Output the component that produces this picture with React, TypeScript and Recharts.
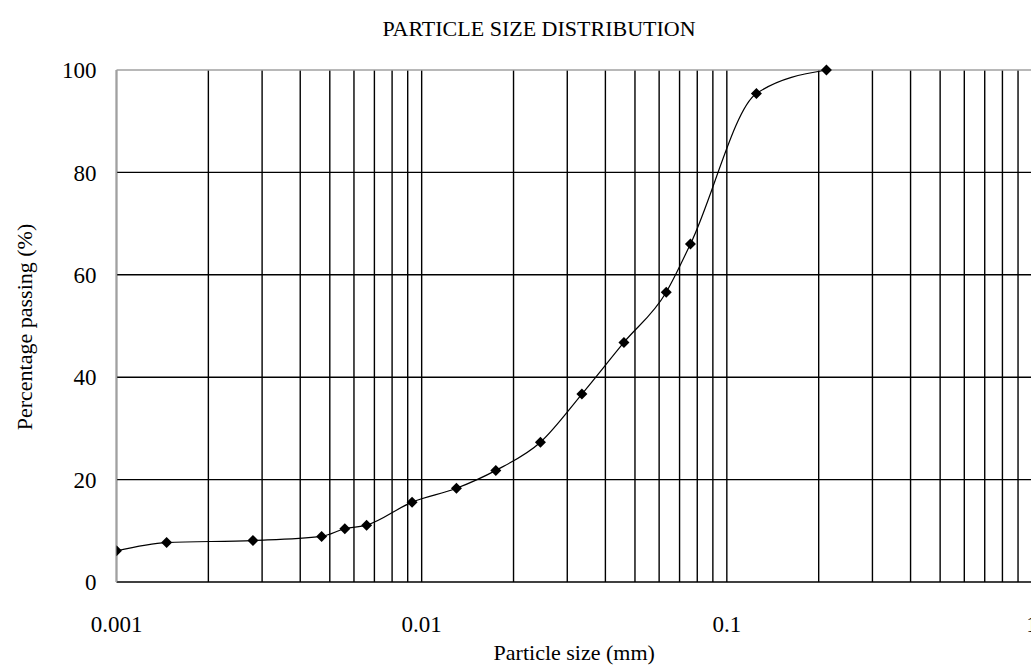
import { LineChart, Line, XAxis, YAxis, CartesianGrid, ReferenceLine } from 'recharts'

// sieve / hydrometer results
const sizes = [0.001, 0.00146, 0.0028, 0.0047, 0.0056, 0.0066, 0.0093, 0.013, 0.0175, 0.0245, 0.0335, 0.046, 0.0633, 0.076, 0.125, 0.212]
const passing = [6.1, 7.7, 8.1, 8.9, 10.4, 11.1, 15.6, 18.3, 21.8, 27.3, 36.7, 46.8, 56.6, 66.0, 95.4, 100]

const xGridTicks = [
  0.001, 0.002, 0.003, 0.004, 0.005, 0.006, 0.007, 0.008, 0.009,
  0.01, 0.02, 0.03, 0.04, 0.05, 0.06, 0.07, 0.08, 0.09,
  0.1, 0.2, 0.3, 0.4, 0.5, 0.6, 0.7, 0.8, 0.9, 1,
]
const xLabelTicks = [0.001, 0.01, 0.1, 1]
const yTicks = [0, 20, 40, 60, 80, 100]
const yGridLines = [20, 40, 60, 80]

const data = sizes.map((s, i) => ({ size: s, pct: passing[i] }))

const FONT = '"Liberation Serif", "DejaVu Serif", serif'
const BORDER = '#a0a0a0'

function Diamond(props: any) {
  const { cx, cy } = props
  if (cx == null || cy == null) return null
  const r = 5.5
  return <path d={`M${cx},${cy - r}L${cx + r},${cy}L${cx},${cy + r}L${cx - r},${cy}Z`} fill="#000" />
}

export default function App() {
  return (
    <div style={{ position: 'absolute', left: 0, top: 0, width: 1031, height: 666, overflow: 'hidden', background: '#fff', fontFamily: FONT }}>
      <div style={{ position: 'absolute', left: 339, top: 16, width: 400, textAlign: 'center', fontSize: 22, lineHeight: '26px', color: '#000' }}>
        PARTICLE SIZE DISTRIBUTION
      </div>
      <div
        style={{
          position: 'absolute', left: 25 - 150, top: 327 - 13, width: 300, height: 26, lineHeight: '26px',
          textAlign: 'center', fontSize: 22, color: '#000', transform: 'rotate(-90deg)',
        }}
      >
        Percentage passing (%)
      </div>
      <LineChart width={1040} height={666} data={data} margin={{ top: 70, right: 8, bottom: 0, left: 0 }}>
        <CartesianGrid stroke="#000" strokeWidth={1.4} horizontalValues={yGridLines} verticalValues={xGridTicks} />
        <ReferenceLine y={100} stroke={BORDER} strokeWidth={1.5} />
        <XAxis
          dataKey="size"
          type="number"
          scale="log"
          domain={[0.001, 1]}
          ticks={xGridTicks}
          interval={0}
          allowDataOverflow
          height={84}
          tickLine={false}
          tickSize={0}
          tickMargin={34}
          axisLine={{ stroke: '#000', strokeWidth: 1.5 }}
          tickFormatter={v => (xLabelTicks.includes(v) ? String(v) : '')}
          tick={{ fontFamily: FONT, fontSize: 23, fill: '#000' }}
          label={{ value: 'Particle size (mm)', position: 'insideBottom', offset: 6, fontFamily: FONT, fontSize: 22, fill: '#000' }}
        />
        <YAxis
          type="number"
          domain={[0, 100]}
          ticks={yTicks}
          interval={0}
          width={116.5}
          tickLine={false}
          tickSize={0}
          tickMargin={20}
          axisLine={{ stroke: BORDER, strokeWidth: 1.5 }}
          tick={{ fontFamily: FONT, fontSize: 23, fill: '#000' }}
        />
        <Line
          type="monotone"
          dataKey="pct"
          stroke="#000"
          strokeWidth={1.2}
          dot={<Diamond />}
          activeDot={false}
          isAnimationActive={false}
        />
      </LineChart>
    </div>
  )
}
